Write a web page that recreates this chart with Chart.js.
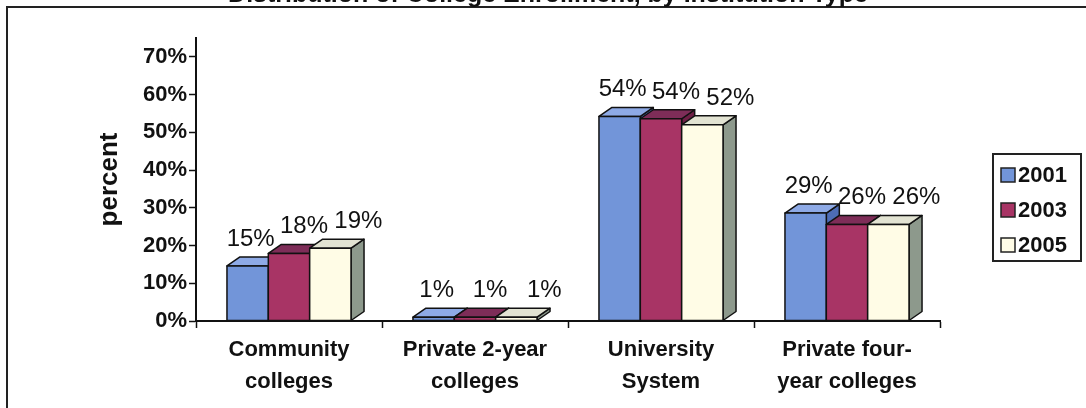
<!DOCTYPE html>
<html>
<head>
<meta charset="utf-8">
<script src="https://cdn.jsdelivr.net/npm/chart.js@4.4.0/dist/chart.umd.min.js"></script>
<style>
  html, body { margin: 0; padding: 0; background: #fff; }
</style>
</head>
<body>
<canvas id="chart" width="1086" height="408"></canvas>
<script>
const titleText = 'Distribution of College Enrollment, by Institution Type';
const categories = [['Community', 'colleges'], ['Private 2-year', 'colleges'], ['University', 'System'], ['Private four-', 'year colleges']];
const years = ['2001', '2003', '2005'];
const v2001 = [14.6, 1.0, 54.2, 28.6];
const v2003 = [17.9, 1.0, 53.6, 25.6];
const v2005 = [19.3, 1.0, 52.0, 25.6];
const yTicks = [0, 10, 20, 30, 40, 50, 60, 70];

const FONT = "'Liberation Sans', Arial, sans-serif";
Chart.defaults.font.family = FONT;
Chart.defaults.color = '#111';

const frontCols = ['#7295d9', '#a83465', '#fffce6'];
const topCols = ['#8eaae6', '#7e2d58', '#e2e3d2'];
const sideCols = ['#4d6cb5', '#6e1f45', '#8d998c'];
const labelShift = [3, 15, 28];

// 3d faces, labels, legend and frame
const extras = {
  id: 'extras',
  afterDatasetsDraw(chart) {
    const ctx = chart.ctx;
    const dx = 13, dy = 9;
    const poly = (pts, fill) => {
      ctx.beginPath();
      ctx.moveTo(pts[0][0], pts[0][1]);
      for (let k = 1; k < pts.length; k++) ctx.lineTo(pts[k][0], pts[k][1]);
      ctx.closePath();
      ctx.fillStyle = fill;
      ctx.fill();
      ctx.stroke();
    };
    ctx.save();
    ctx.lineWidth = 1.5;
    ctx.strokeStyle = '#111';
    ctx.lineJoin = 'round';
    for (let j = 0; j < chart.data.labels.length; j++) {
      chart.data.datasets.forEach((ds, i) => {
        const el = chart.getDatasetMeta(i).data[j];
        const p = el.getProps(['x', 'y', 'base', 'width'], true);
        const l = p.x - p.width / 2, r = p.x + p.width / 2;
        poly([[r, p.base], [r + dx, p.base - dy], [r + dx, p.y - dy], [r, p.y]], sideCols[i]);
        poly([[l, p.y], [l + dx, p.y - dy], [r + dx, p.y - dy], [r, p.y]], topCols[i]);
        poly([[l, p.base], [l, p.y], [r, p.y], [r, p.base]], frontCols[i]);
      });
    }
    // value labels
    ctx.fillStyle = '#111';
    ctx.font = '24px ' + FONT;
    ctx.textAlign = 'center';
    ctx.textBaseline = 'alphabetic';
    chart.data.datasets.forEach((ds, i) => {
      chart.getDatasetMeta(i).data.forEach((el, j) => {
        ctx.fillText(Math.round(ds.data[j]) + '%', el.x + labelShift[i], el.y - 20);
      });
    });
    ctx.restore();
  },
  afterDraw(chart) {
    const ctx = chart.ctx;
    ctx.save();
    // frame
    ctx.strokeStyle = '#222';
    ctx.lineWidth = 2;
    ctx.beginPath();
    ctx.moveTo(7, 408); ctx.lineTo(7, 7); ctx.lineTo(1086, 7);
    ctx.stroke();
    // clipped title
    ctx.fillStyle = '#111';
    ctx.font = 'bold 25px ' + FONT;
    ctx.textAlign = 'center';
    ctx.fillText(titleText, 548, 2);
    // legend
    ctx.lineWidth = 2;
    ctx.strokeRect(993, 154, 88, 107);
    ctx.font = 'bold 22px ' + FONT;
    ctx.textAlign = 'left';
    ctx.textBaseline = 'middle';
    ctx.lineWidth = 1.5;
    chart.data.datasets.forEach((ds, i) => {
      const cy = 175 + i * 35;
      ctx.fillStyle = frontCols[i];
      ctx.fillRect(1001, cy - 7, 14, 14);
      ctx.strokeRect(1001, cy - 7, 14, 14);
      ctx.fillStyle = '#111';
      ctx.fillText(ds.label, 1018, cy + 1);
    });
    ctx.restore();
  }
};

new Chart(document.getElementById('chart'), {
  type: 'bar',
  data: {
    labels: categories,
    datasets: [
      { label: years[0], data: v2001, backgroundColor: frontCols[0] },
      { label: years[1], data: v2003, backgroundColor: frontCols[1] },
      { label: years[2], data: v2005, backgroundColor: frontCols[2] }
    ]
  },
  options: {
    responsive: false,
    animation: false,
    categoryPercentage: 0.667,
    barPercentage: 1.0,
    layout: { padding: { left: 90, top: 38, right: 146, bottom: 0 } },
    plugins: { legend: { display: false }, tooltip: { enabled: false } },
    scales: {
      x: {
        grid: { drawOnChartArea: false, tickLength: 7, color: '#111', tickWidth: 1.5, offset: true },
        border: { color: '#111', width: 2 },
        ticks: { font: { size: 22, weight: 'bold', lineHeight: 1.45 }, padding: 6, maxRotation: 0, autoSkip: false },
        afterFit: s => { s.height = 87; }
      },
      y: {
        min: 0,
        max: 75,
        afterBuildTicks: s => { s.ticks = yTicks.map(v => ({ value: v })); },
        grid: { drawOnChartArea: false, tickLength: 7, color: '#111', tickWidth: 1.5 },
        border: { color: '#111', width: 2 },
        ticks: { font: { size: 22, weight: 'bold' }, padding: 2, callback: v => v + '%' },
        title: { display: true, text: 'percent', font: { size: 26, weight: 'bold' } },
        afterFit: s => { s.width = 106; }
      }
    }
  },
  plugins: [extras]
});
</script>
</body>
</html>
